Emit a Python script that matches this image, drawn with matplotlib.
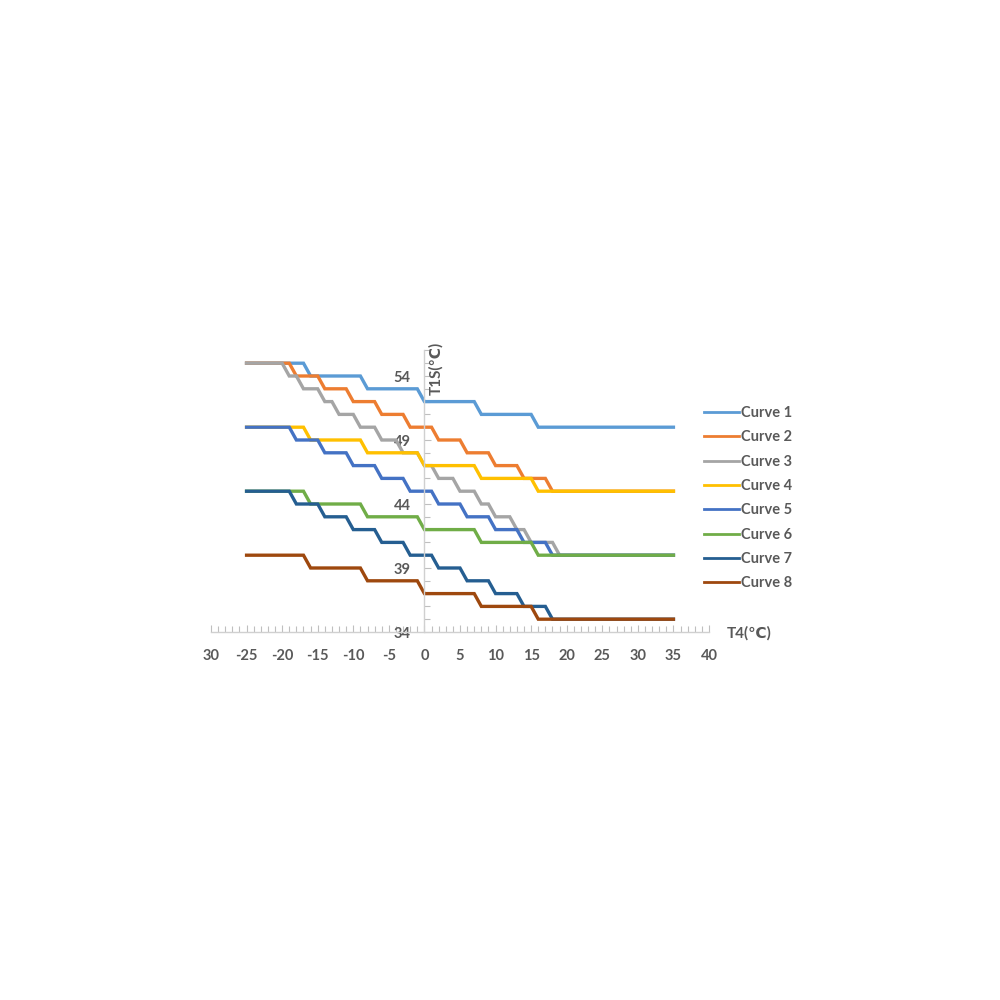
import matplotlib
matplotlib.use("Agg")
import matplotlib.pyplot as plt
from matplotlib.ticker import MultipleLocator, FixedLocator

plt.rcParams["font.family"] = ["Lato", "DejaVu Sans"]

# T4 (outdoor temp) vertices of the step curves, T1S (water set point) levels
t4_a = [-25, -17, -16, -9, -8, -1, 0, 7, 8, 15, 16, 35]
t4_b = [-25, -19, -18, -15, -14, -11, -10, -7, -6, -3, -2, 1, 2, 5, 6, 9,
        10, 13, 14, 17, 18, 35]
t4_c = [-25, -20, -19, -18, -17, -15, -14, -13, -12, -10, -9, -7, -6, -4,
        -3, -1, 0, 1, 2, 4, 5, 7, 8, 9, 10, 12, 13, 14, 15, 18, 19, 35]

curve1 = [55, 55, 54, 54, 53, 53, 52, 52, 51, 51, 50, 50]
curve2 = [55, 55, 54, 54, 53, 53, 52, 52, 51, 51, 50, 50, 49, 49, 48, 48,
          47, 47, 46, 46, 45, 45]
curve3 = [55, 55, 54, 54, 53, 53, 52, 52, 51, 51, 50, 50, 49, 49, 48, 48,
          47, 47, 46, 46, 45, 45, 44, 44, 43, 43, 42, 42, 41, 41, 40, 40]
curve4 = [50, 50, 49, 49, 48, 48, 47, 47, 46, 46, 45, 45]
curve5 = [50, 50, 49, 49, 48, 48, 47, 47, 46, 46, 45, 45, 44, 44, 43, 43,
          42, 42, 41, 41, 40, 40]
curve6 = [45, 45, 44, 44, 43, 43, 42, 42, 41, 41, 40, 40]
curve7 = [45, 45, 44, 44, 43, 43, 42, 42, 41, 41, 40, 40, 39, 39, 38, 38,
          37, 37, 36, 36, 35, 35]
curve8 = [40, 40, 39, 39, 38, 38, 37, 37, 36, 36, 35, 35]

series = [
    ("Curve 1", t4_a, curve1, "#5B9BD5"),
    ("Curve 2", t4_b, curve2, "#ED7D31"),
    ("Curve 3", t4_c, curve3, "#A5A5A5"),
    ("Curve 4", t4_a, curve4, "#FFC000"),
    ("Curve 5", t4_b, curve5, "#4472C4"),
    ("Curve 6", t4_a, curve6, "#70AD47"),
    ("Curve 7", t4_b, curve7, "#255E91"),
    ("Curve 8", t4_a, curve8, "#9E480E"),
]

x_ticks = [-30, -25, -20, -15, -10, -5, 0, 5, 10, 15, 20, 25, 30, 35, 40]
x_labels = ["30", "-25", "-20", "-15", "-10", "-5", "0", "5", "10", "15",
            "20", "25", "30", "35", "40"]
y_ticks = [34, 39, 44, 49, 54]

text_color = "#595959"
axis_color = "#D0D0D0"

fig = plt.figure(figsize=(10, 10), dpi=100)
ax = fig.add_axes([0.211, 0.368, 0.498, 0.2816])

for name, xs, ys, color in series:
    ax.plot(xs, ys, color=color, lw=2.4, label=name, solid_joinstyle="miter")

ax.set_xlim(-30, 40)
ax.set_ylim(34, 56)

# Excel style crossing axes: y axis sits at T4 = 0
ax.spines["top"].set_visible(False)
ax.spines["right"].set_visible(False)
ax.spines["left"].set_position(("data", 0))
for side in ("left", "bottom"):
    ax.spines[side].set_color(axis_color)
    ax.spines[side].set_linewidth(1.0)

ax.xaxis.set_major_locator(FixedLocator(x_ticks))
ax.set_xticklabels(x_labels)
ax.xaxis.set_minor_locator(MultipleLocator(1))
ax.yaxis.set_major_locator(FixedLocator(y_ticks))
ax.yaxis.set_minor_locator(MultipleLocator(1))

ax.tick_params(axis="both", which="both", direction="in", color="#BFBFBF",
               width=0.8)
ax.tick_params(axis="both", which="major", length=5)
ax.tick_params(axis="both", which="minor", length=4)
ax.tick_params(axis="x", which="major", pad=12, labelsize=10.5,
               labelcolor=text_color)
ax.tick_params(axis="y", which="major", pad=10, labelsize=10.5,
               labelcolor=text_color)
for lbl in ax.get_xticklabels() + ax.get_yticklabels():
    lbl.set_fontweight("bold")

fig.text(0.749, 0.367, "T4(℃)", ha="center", va="center", fontsize=11,
         fontweight="bold", color=text_color)
fig.text(0.436, 0.632, "T1S(℃)", ha="center", va="center", fontsize=11,
         fontweight="bold", color=text_color, rotation=90)

leg = ax.legend(loc="upper left", bbox_to_anchor=(0.704, 0.594),
                bbox_transform=fig.transFigure, frameon=False,
                borderpad=0, borderaxespad=0, handlelength=2.4,
                handletextpad=0.15, labelspacing=0.71, fontsize=10.5)
for t in leg.get_texts():
    t.set_color(text_color)
    t.set_fontweight("bold")
for h in leg.get_lines():
    h.set_linewidth(2.0)

fig.savefig("out.png", dpi=100, facecolor="white")
